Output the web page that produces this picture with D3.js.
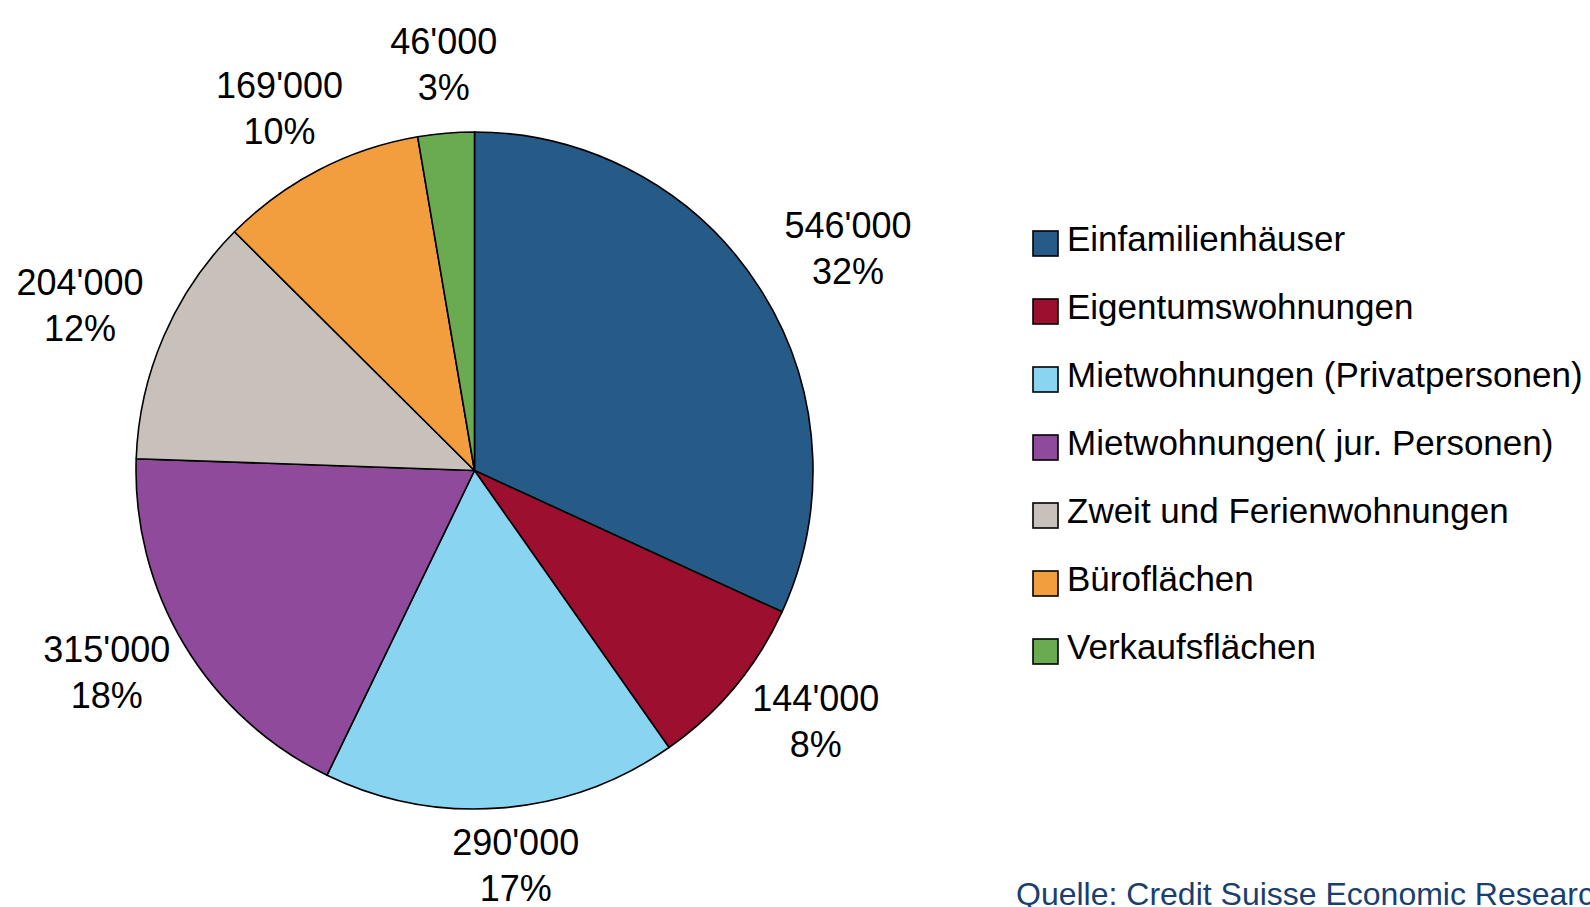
<!DOCTYPE html>
<html>
<head>
<meta charset="utf-8">
<script src="https://cdn.jsdelivr.net/npm/d3@7"></script>
<style>
  html, body { margin: 0; padding: 0; background: #ffffff; overflow: hidden; }
  svg { display: block; }
  text { font-family: "Liberation Sans", Arial, Helvetica, sans-serif; }
</style>
</head>
<body>
<svg id="chart" width="1590" height="907"></svg>
<script>
const categories = [
  "Einfamilienhäuser",
  "Eigentumswohnungen",
  "Mietwohnungen (Privatpersonen)",
  "Mietwohnungen( jur. Personen)",
  "Zweit und Ferienwohnungen",
  "Büroflächen",
  "Verkaufsflächen"
];
const values = [546000, 144000, 290000, 315000, 204000, 169000, 46000];
const colors = ["#265a87", "#9c0f2e", "#89d4f0", "#8f4a9b", "#c8c0ba", "#f39e3e", "#6aaa50"];
const sourceText = "Quelle: Credit Suisse Economic Research";

const svg = d3.select("#chart");
const cx = 474.5, cy = 470.5, r = 338.5;

const total = d3.sum(values);
const data = categories.map((c, i) => ({ name: c, value: values[i], color: colors[i] }));

const pie = d3.pie().sort(null).value(d => d.value).startAngle(0).endAngle(2 * Math.PI);
const arc = d3.arc().innerRadius(0).outerRadius(r);
const arcs = pie(data);

const g = svg.append("g").attr("transform", `translate(${cx},${cy})`);
g.selectAll("path.slice")
  .data(arcs)
  .join("path")
  .attr("class", "slice")
  .attr("d", arc)
  .attr("fill", d => d.data.color)
  .attr("stroke", "#000")
  .attr("stroke-width", 1.6)
  .attr("stroke-linejoin", "round");

// labels: placed on an ellipse around the pie, at each slice's mid angle
const fmt = v => d3.format(",")(v).replace(/,/g, "'");
const pct = d3.format(".0%");
const fs = 36, lh = 46;
const ex = r + 98, ey = r + 63, ox = 6, oy = -6;

const labelG = g.append("g");
arcs.forEach(a => {
  const mid = (a.startAngle + a.endAngle) / 2;
  const bx = ox + ex * Math.sin(mid);
  const by = oy - ey * Math.cos(mid);
  const capH = fs * 0.72;
  const h = lh + capH;
  const t = labelG.append("text")
    .attr("text-anchor", "middle")
    .attr("font-size", fs)
    .attr("fill", "#000");
  t.append("tspan").attr("x", bx).attr("y", by - h / 2 + capH).text(fmt(a.data.value));
  t.append("tspan").attr("x", bx).attr("y", by - h / 2 + capH + lh).text(pct(a.data.value / total));
});

// legend
const legX = 1033, legY0 = 231, legStep = 68, box = 25;
const leg = svg.append("g");
const rows = leg.selectAll("g.row").data(data).join("g")
  .attr("class", "row")
  .attr("transform", (d, i) => `translate(${legX},${legY0 + i * legStep})`);
rows.append("rect")
  .attr("x", 0).attr("y", 0)
  .attr("width", box).attr("height", box)
  .attr("fill", d => d.color)
  .attr("stroke", "#000")
  .attr("stroke-width", 1.6);
rows.append("text")
  .attr("x", 34)
  .attr("y", 20)
  .attr("font-size", 35)
  .attr("fill", "#000")
  .text(d => d.name);

// source
svg.append("text")
  .attr("x", 1016)
  .attr("y", 905)
  .attr("font-size", 32)
  .attr("fill", "#1a3f6e")
  .text(sourceText);
</script>
</body>
</html>
